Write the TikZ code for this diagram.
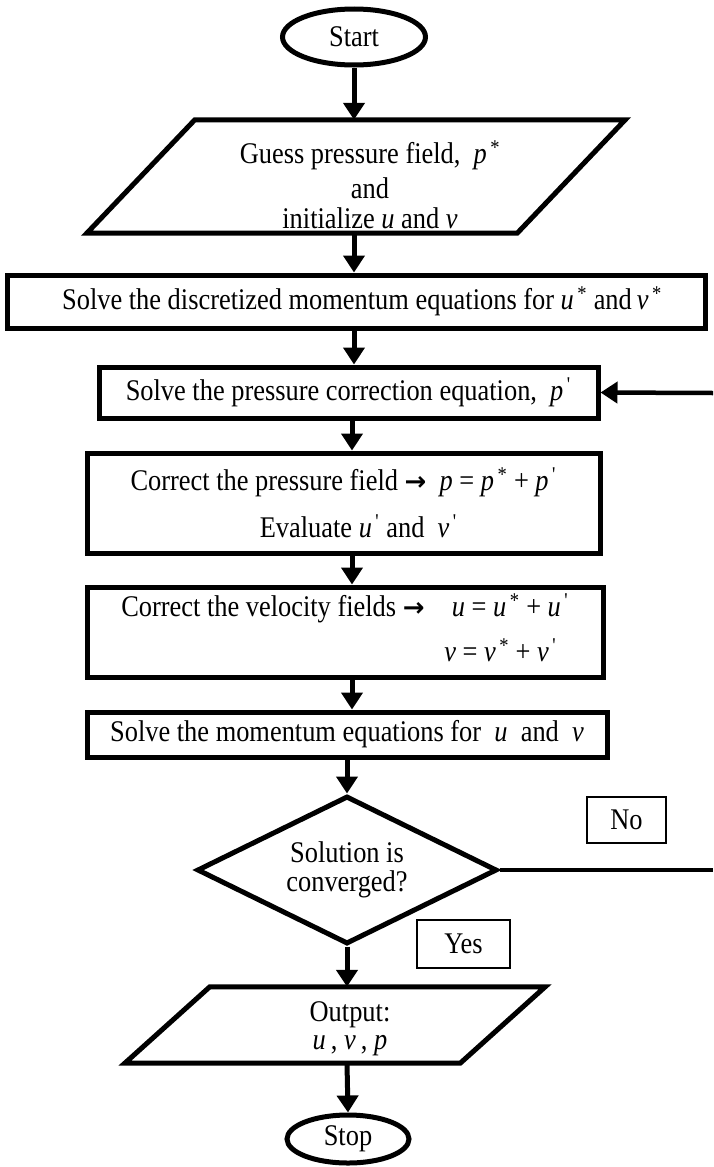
\documentclass[tikz,border=0pt]{standalone}
\usepackage{fontspec}
\setmainfont{Liberation Serif}[FakeStretch=0.88]
\newfontfamily\arrfont{DejaVu Sans}
\usetikzlibrary{shapes.geometric,arrows.meta,calc}
\newcommand{\iv}[1]{\textit{#1}}
\newcommand{\stp}{\textsuperscript{\,*}}
\newcommand{\prm}{\textsuperscript{\,\textquotesingle}}
\newcommand{\rarr}{{\arrfont\bfseries\fontsize{26}{30}\selectfont →}}
\begin{document}
\begin{tikzpicture}[x=1pt,y=-1pt,
  every node/.style={font=\fontsize{30}{33}\selectfont, inner sep=0pt},
  box/.style={draw, line width=5pt, rectangle},
  term/.style={draw, line width=5pt, ellipse},
  dec/.style={draw, line width=5pt, diamond, aspect=2, align=center},
  lab/.style={draw, line width=1.2pt, rectangle},
  anchorbox/.style={rectangle},
  para/.style={draw, line width=5pt, line join=miter},
  arr/.style={line width=5pt, -{Triangle[width=21pt,length=17pt]}},
]
\useasboundingbox (0,0) rectangle (713,1167);

% nodes
\node[term, minimum width=143, minimum height=56] (start) at (354,37) {Start};

\node[anchorbox, minimum width=538, minimum height=113] (guess) at (356,176.5) {};
\draw[para] ($(guess.north west)+(108,0)$) -- (guess.north east)
  -- ($(guess.south east)-(108,0)$) -- (guess.south west) -- cycle;
\node[align=center] (guesstxt) at (370,185)
  {Guess pressure field,\ \ \iv{p}\stp\\[2pt] and\\[-3pt] initialize \iv{u} and \iv{v}};

\node[box, minimum width=698, minimum height=53] (mom) at (356,301.5)
  {\hspace*{12pt}Solve the discretized momentum equations for\ \iv{u}\stp\ and\,\iv{v}\stp};

\node[box, minimum width=499, minimum height=51] (pc) at (348.5,392.5)
  {Solve the pressure correction equation,\ \ \iv{p}\prm};

\node[box, minimum width=513, minimum height=100, align=center] (corp) at (343.5,503)
  {Correct the pressure field \rarr\ \ \iv{p} = \iv{p}\stp\ + \iv{p}\prm\\[14pt]
   \hspace*{30pt}Evaluate \iv{u}\prm\ and\ \ \iv{v}\prm};

\node[box, minimum width=516, minimum height=90] (corv) at (345,632)
  {\begin{tabular}{@{}l@{\ \ \ }r@{}}
   Correct the velocity fields \rarr & \iv{u} = \iv{u}\stp\ + \iv{u}\prm\\[12pt]
   & \iv{v} = \iv{v}\stp\ + \iv{v}\prm\hspace*{12pt}
   \end{tabular}};

\node[box, minimum width=520, minimum height=45] (solve) at (347,734.5)
  {Solve the momentum equations for\ \ \iv{u}\ \ and\ \ \iv{v}};

\node[dec, minimum width=300, minimum height=148] (conv) at (347,870)
  {Solution is\\[-4pt] converged?};

\node[lab, minimum width=79, minimum height=46] (no) at (626.5,820) {No};
\node[lab, minimum width=93, minimum height=48] (yes) at (463.5,944) {Yes};

\node[anchorbox, minimum width=420, minimum height=76] (out) at (335,1025) {};
\draw[para] ($(out.north west)+(85,0)$) -- (out.north east)
  -- ($(out.south east)-(85,0)$) -- (out.south west) -- cycle;
\node[align=center] (outtxt) at (350,1029)
  {Output:\\[-5pt] \iv{u}\,, \iv{v}\,, \iv{p}};

\node[term, minimum width=122, minimum height=48] (stop) at (348,1139) {Stop};

% connectors
\coordinate (cA) at (354,0);
\coordinate (cB) at (352,0);
\coordinate (cC) at (347,0);
\draw[arr] (start.south -| cA) -- (guess.north -| cA);
\draw[arr] (guess.south -| cA) -- (mom.north -| cA);
\draw[arr] (mom.south -| cA) -- (pc.north -| cA);
\draw[arr] (pc.south -| cB) -- (corp.north -| cB);
\draw[arr] (corp.south -| cB) -- (corv.north -| cB);
\draw[arr] (corv.south -| cB) -- (solve.north -| cB);
\draw[arr] (solve.south -| cC) -- (conv.north);
\draw[arr] (conv.south) -- (out.north -| cC);
\draw[arr] (out.south -| cC) -- (stop.north);

\coordinate (fbin) at (713,393);
\coordinate (fbout) at (713,870);
\draw[arr, line width=4.5pt] (fbin) -- (pc.east);
\draw[line width=4.5pt] (conv.east) -- (fbout);
\end{tikzpicture}
\end{document}
